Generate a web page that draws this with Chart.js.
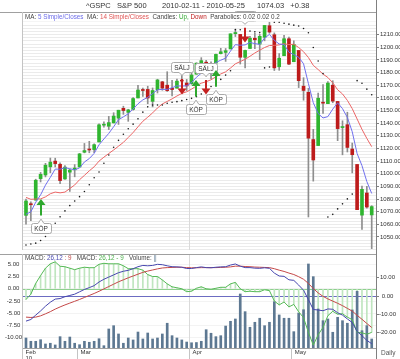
<!DOCTYPE html>
<html>
<head>
<meta charset="utf-8">
<script src="https://cdn.jsdelivr.net/npm/chart.js@4.4.1/dist/chart.umd.min.js"></script>
<style>
  html, body { margin: 0; padding: 0; background: #fff; }
  #wrap { position: relative; width: 400px; height: 359px; overflow: hidden; }
  #price { position: absolute; left: 0; top: 0; }
  #macd { position: absolute; left: 0; top: 254px; }
</style>
</head>
<body>
<div id="wrap">
  <canvas id="price" width="400" height="254"></canvas>
  <canvas id="macd" width="400" height="105"></canvas>
</div>
<script>
// ---- S&P 500 daily ----
const dates = [
  '2010-02-11','2010-02-12','2010-02-16','2010-02-17','2010-02-18','2010-02-19','2010-02-22','2010-02-23','2010-02-24','2010-02-25','2010-02-26',
  '2010-03-01','2010-03-02','2010-03-03','2010-03-04','2010-03-05','2010-03-08','2010-03-09','2010-03-10','2010-03-11','2010-03-12','2010-03-15',
  '2010-03-16','2010-03-17','2010-03-18','2010-03-19','2010-03-22','2010-03-23','2010-03-24','2010-03-25','2010-03-26','2010-03-29','2010-03-30','2010-03-31',
  '2010-04-01','2010-04-05','2010-04-06','2010-04-07','2010-04-08','2010-04-09','2010-04-12','2010-04-13','2010-04-14','2010-04-15','2010-04-16',
  '2010-04-19','2010-04-20','2010-04-21','2010-04-22','2010-04-23','2010-04-26','2010-04-27','2010-04-28','2010-04-29','2010-04-30',
  '2010-05-03','2010-05-04','2010-05-05','2010-05-06','2010-05-07','2010-05-10','2010-05-11','2010-05-12','2010-05-13','2010-05-14',
  '2010-05-17','2010-05-18','2010-05-19','2010-05-20','2010-05-21','2010-05-24','2010-05-25'
];
const opens = [
  1067.10, 1075.95, 1079.13, 1096.14, 1099.03, 1105.49, 1110.00, 1107.49, 1095.89, 1101.24,
  1103.10, 1105.36, 1117.01, 1119.36, 1119.12, 1125.12, 1138.40, 1137.56, 1140.22, 1143.96,
  1151.71, 1148.53, 1150.83, 1159.94, 1166.13, 1166.68, 1157.25, 1166.47, 1172.70, 1170.03,
  1167.58, 1167.71, 1173.75, 1171.75, 1171.23, 1178.71, 1186.01, 1188.23, 1181.75, 1187.47,
  1194.94, 1195.94, 1198.69, 1210.77, 1210.17, 1192.06, 1199.04, 1207.16, 1202.52, 1207.87,
  1217.07, 1209.92, 1184.59, 1193.30, 1206.77, 1188.58, 1197.50, 1169.24, 1164.38, 1127.04,
  1122.27, 1156.39, 1155.43, 1170.04, 1157.19, 1136.52, 1138.78, 1119.57, 1107.34, 1067.26,
  1084.78, 1067.42
];
const highs = [
  1080.04, 1077.81, 1095.67, 1101.03, 1108.24, 1112.42, 1112.29, 1108.58, 1106.42, 1103.50,
  1107.24, 1116.11, 1123.96, 1125.64, 1123.73, 1139.38, 1141.05, 1145.37, 1148.26, 1150.24,
  1153.41, 1150.98, 1160.28, 1169.84, 1167.77, 1169.20, 1167.82, 1174.72, 1173.04, 1180.69,
  1173.93, 1174.85, 1177.83, 1174.56, 1181.43, 1187.73, 1191.80, 1189.60, 1188.55, 1194.66,
  1199.20, 1199.04, 1210.65, 1213.92, 1210.17, 1197.87, 1208.58, 1210.99, 1210.27, 1217.28,
  1219.80, 1211.38, 1195.05, 1209.36, 1207.99, 1205.13, 1197.50, 1175.95, 1167.58, 1135.13,
  1163.85, 1170.48, 1172.87, 1173.57, 1157.19, 1141.88, 1148.66, 1124.27, 1107.34, 1090.16,
  1089.95, 1074.75
];
const lows = [
  1060.06, 1062.97, 1079.13, 1093.50, 1097.48, 1100.80, 1105.38, 1092.18, 1095.50, 1086.02,
  1097.56, 1105.36, 1116.51, 1116.58, 1116.66, 1125.12, 1136.77, 1134.90, 1140.09, 1138.99,
  1146.97, 1141.45, 1150.35, 1159.94, 1161.16, 1155.33, 1152.88, 1163.83, 1166.01, 1165.09,
  1161.48, 1167.71, 1168.92, 1165.77, 1170.69, 1178.71, 1182.77, 1177.25, 1175.12, 1187.15,
  1194.71, 1188.82, 1198.69, 1208.50, 1186.77, 1183.68, 1199.04, 1198.85, 1190.19, 1205.10,
  1211.07, 1181.62, 1181.81, 1193.30, 1186.32, 1188.58, 1168.12, 1158.15, 1065.79, 1094.15,
  1122.27, 1147.71, 1155.43, 1156.14, 1126.14, 1114.96, 1117.20, 1100.66, 1071.58, 1055.90,
  1072.70, 1040.78
];
const closes = [
  1078.47, 1075.51, 1094.87, 1099.51, 1106.75, 1109.17, 1108.01, 1094.60, 1105.24, 1102.94,
  1104.49, 1115.71, 1118.31, 1118.79, 1122.97, 1138.70, 1138.50, 1140.45, 1145.61, 1150.24,
  1149.99, 1150.51, 1159.46, 1166.21, 1165.83, 1159.90, 1165.81, 1174.17, 1167.72, 1165.73,
  1166.59, 1173.22, 1173.27, 1169.43, 1178.10, 1187.44, 1189.44, 1182.45, 1186.44, 1194.37,
  1196.48, 1197.30, 1210.65, 1211.67, 1192.13, 1197.52, 1207.17, 1205.94, 1208.67, 1217.28,
  1212.05, 1183.71, 1191.36, 1206.78, 1186.69, 1202.26, 1173.60, 1165.87, 1128.15, 1110.88,
  1159.73, 1155.79, 1171.67, 1157.44, 1135.68, 1136.94, 1120.80, 1115.05, 1071.59, 1087.69,
  1073.65, 1074.03
];
const ma5 = [
  1068.0, 1069.9, 1077.5, 1083.3, 1091.0, 1097.2, 1103.7, 1103.6, 1104.8, 1104.0,
  1103.1, 1104.6, 1109.3, 1112.0, 1116.1, 1122.9, 1127.5, 1131.9, 1137.2, 1142.7,
  1145.0, 1147.4, 1151.2, 1155.3, 1158.4, 1160.4, 1163.4, 1166.4, 1166.7, 1166.7,
  1168.0, 1169.5, 1169.3, 1169.6, 1172.1, 1176.3, 1179.5, 1181.4, 1184.8, 1188.0,
  1189.8, 1191.4, 1197.0, 1202.1, 1201.6, 1201.9, 1203.8, 1202.9, 1202.3, 1207.3,
  1210.2, 1205.5, 1202.6, 1202.2, 1196.1, 1194.2, 1192.1, 1187.0, 1171.3, 1156.2,
  1147.6, 1144.1, 1145.2, 1151.1, 1156.1, 1151.5, 1144.5, 1133.2, 1116.0, 1106.4,
  1093.8, 1084.4
];
const ma14 = [
  1081.3, 1079.8, 1080.0, 1080.1, 1081.7, 1084.2, 1085.5, 1084.9, 1085.5, 1088.3,
  1091.1, 1095.3, 1098.7, 1102.3, 1105.5, 1110.0, 1113.1, 1116.0, 1118.8, 1121.8,
  1124.8, 1128.7, 1132.6, 1137.1, 1141.5, 1144.7, 1148.1, 1152.0, 1155.2, 1157.2,
  1159.2, 1161.5, 1163.5, 1164.8, 1166.9, 1169.5, 1171.6, 1172.8, 1174.3, 1176.7,
  1178.9, 1180.6, 1183.6, 1186.9, 1188.7, 1190.5, 1192.9, 1195.5, 1197.7, 1199.8,
  1201.4, 1201.5, 1201.9, 1202.8, 1202.1, 1202.4, 1199.8, 1196.5, 1191.9, 1185.7,
  1182.4, 1178.8, 1176.1, 1171.9, 1166.4, 1163.1, 1158.0, 1151.5, 1143.3, 1135.1,
  1127.9, 1121.4
];
const sar = [
  1043.7, 1044.4, 1045.1, 1047.2, 1050.4, 1055.0, 1060.8, 1065.9, 1070.6, 1074.8,
  1078.5, 1081.9, 1086.0, 1091.3, 1096.8, 1101.4, 1108.3, 1114.8, 1120.9, 1126.4,
  1131.2, 1135.6, 1139.2, 1143.4, 1148.7, 1152.9, 1154.4, 1154.4, 1154.4, 1155.7,
  1156.5, 1157.0, 1157.8, 1158.7, 1159.6, 1161.0, 1163.0, 1166.0, 1169.0, 1171.5,
  1174.6, 1178.0, 1181.4, 1214.0, 1213.9, 1213.4, 1212.8, 1212.2, 1211.6, 1183.7,
  1184.4, 1219.8, 1219.8, 1219.0, 1218.3, 1217.5, 1216.8, 1214.9, 1211.5, 1199.8,
  1189.1, 1179.2, 1065.8, 1067.9, 1072.2, 1076.2, 1080.1, 1083.9, 1173.6, 1171.5,
  1166.9, 1162.5
];
const macdLine = [
  -13.8, -12.9, -10.5, -8.2, -5.6, -3.4, -1.7, -1.4, -0.4, 0.3,
  1.0, 2.3, 3.6, 4.6, 5.7, 7.7, 9.2, 10.4, 11.6, 12.8,
  13.6, 14.1, 15.0, 16.1, 16.8, 16.6, 16.8, 17.4, 17.2, 16.6,
  16.1, 16.0, 15.8, 15.1, 15.1, 15.6, 16.0, 15.6, 15.5, 15.8,
  16.0, 16.1, 17.0, 17.6, 16.4, 15.6, 15.6, 15.3, 15.2, 15.5,
  15.2, 12.6, 11.0, 10.8, 8.9, 8.6, 6.0, 3.2, -2.0, -7.4,
  -7.7, -8.1, -7.1, -7.3, -9.2, -10.5, -12.6, -14.6, -19.5, -21.8,
  -24.4, -26.2
];
const signalLine = [
  -11.6, -11.8, -11.6, -10.9, -9.8, -8.6, -7.2, -6.0, -4.9, -3.9,
  -2.9, -1.9, -0.8, 0.3, 1.4, 2.6, 3.9, 5.2, 6.5, 7.8,
  8.9, 10.0, 11.0, 12.0, 13.0, 13.7, 14.3, 14.9, 15.4, 15.6,
  15.7, 15.8, 15.8, 15.6, 15.5, 15.5, 15.6, 15.6, 15.6, 15.6,
  15.7, 15.8, 16.0, 16.4, 16.4, 16.2, 16.1, 15.9, 15.8, 15.7,
  15.6, 15.0, 14.2, 13.5, 12.6, 11.8, 10.6, 9.2, 6.9, 4.1,
  1.7, -0.2, -1.6, -2.8, -4.0, -5.3, -6.8, -8.3, -10.6, -12.8,
  -15.1, -17.3
];
const histogram = [
  -2.2, -1.1, 1.1, 2.7, 4.2, 5.1, 5.5, 4.6, 4.5, 4.2,
  3.9, 4.2, 4.4, 4.3, 4.3, 5.0, 5.2, 5.1, 5.1, 5.1,
  4.7, 4.1, 4.1, 4.1, 3.8, 2.9, 2.5, 2.5, 1.8, 1.0,
  0.4, 0.2, 0.0, -0.6, -0.5, 0.1, 0.4, 0.0, -0.1, 0.1,
  0.3, 0.3, 1.0, 1.3, 0.0, -0.6, -0.5, -0.6, -0.6, -0.2,
  -0.4, -2.5, -3.3, -2.7, -3.7, -3.2, -4.7, -5.9, -8.9, -11.5,
  -9.4, -7.9, -5.5, -4.6, -5.2, -5.1, -5.8, -6.3, -8.9, -9.0,
  -9.3, -8.9
];
// volume, millions of shares
const volume = [
  4420, 4150, 4150, 4280, 3930, 3990, 3850, 4530, 4150, 4500,
  3990, 3870, 4150, 4070, 4150, 4360, 3790, 5160, 5430, 4750,
  3990, 4420, 4260, 4910, 4340, 4830, 4340, 4420, 4750, 5630,
  4610, 4420, 4260, 4090, 4030, 4050, 4150, 5100, 4810, 4530,
  4610, 5400, 5790, 5980, 8030, 6580, 5300, 5710, 6040, 5430,
  5710, 7400, 6310, 6040, 6040, 4940, 6470, 6740, 10490, 9450,
  6800, 5840, 5980, 4890, 6120, 5840, 5630, 6720, 8250, 5020,
  5430, 4340
];

// buy / sell markers
const signalIdx = [3, 32, 35, 37, 39, 45];
const signalText = ['KÖP', 'SÄLJ', 'KÖP', 'SÄLJ', 'KÖP', 'SÄLJ'];
const signalTip = [1080.1, 1162.6, 1174.2, 1162.6, 1182.0, 1203.8];
const signalTail = [1066.9, 1175.0, 1161.0, 1174.2, 1168.8, 1215.4];

// axis labels
const priceLabels = [1050, 1060, 1070, 1080, 1090, 1100, 1110, 1120, 1130, 1140, 1150, 1160, 1170, 1180, 1190, 1200, 1210];
const histLabels = [-10, -7.5, -5, -2.5, 0, 2.5, 5];
const macdLabels = [-20, -10, 0, 10];
const monthLabels = ['Feb', 'Mar', 'Apr', 'May'];
const yearLabel = '10';

// ---- helpers ----
const FONT = '"Liberation Sans", Arial, Helvetica, sans-serif';
Chart.defaults.font.family = FONT;
Chart.defaults.font.size = 6;
Chart.defaults.color = '#333';
Chart.defaults.animation = false;
Chart.defaults.plugins.legend.display = false;
Chart.defaults.plugins.tooltip.enabled = false;

const X_MIN = -0.82;
const X_MAX = dates.length - 1 + 0.88;
const pts = arr => arr.map((v, i) => ({ x: i, y: v }));
const monthStarts = dates.map((d, i) => i).filter(i => i === 0 || dates[i].slice(5, 7) !== dates[i - 1].slice(5, 7));
const monthTickAt = i => (i === 0 ? X_MIN : i - 0.5);
const quarterAt = monthTickAt(monthStarts[2]);

const priceGrid = [];
for (let v = 1040; v <= 1227.5; v += 2.5) priceGrid.push(v);

const fixSize = (w, h) => scale => {
  if (w != null) scale.width = w;
  if (h != null) scale.height = h;
  scale.paddingTop = scale.paddingBottom = scale.paddingLeft = scale.paddingRight = 0;
};
const crisp = v => Math.round(v) + 0.5;
function seg(ctx, x0, y0, x1, y1, color) {
  ctx.strokeStyle = color;
  ctx.lineWidth = 1;
  ctx.beginPath();
  ctx.moveTo(x0, y0);
  ctx.lineTo(x1, y1);
  ctx.stroke();
}
function drawPieces(ctx, x, y, pieces) {
  ctx.textAlign = 'left';
  ctx.textBaseline = 'middle';
  pieces.forEach(([text, color]) => {
    ctx.fillStyle = color;
    ctx.fillText(text, x, y);
    x += ctx.measureText(text).width;
  });
}

function drawCallout(ctx, cx, tipY, text, below) {
  const w = Math.round(ctx.measureText(text).width) + 6, h = 10, nh = 3.5, nw = 3, r = 2;
  const L = Math.round(cx - w / 2) + 0.5, R = L + w;
  const T = below ? Math.round(tipY + nh) + 0.5 : Math.round(tipY - nh) + 0.5 - h;
  const B = T + h;
  ctx.beginPath();
  ctx.moveTo(L + r, T);
  if (below) { ctx.lineTo(cx - nw, T); ctx.lineTo(cx, tipY); ctx.lineTo(cx + nw, T); }
  ctx.lineTo(R - r, T); ctx.arcTo(R, T, R, T + r, r);
  ctx.lineTo(R, B - r); ctx.arcTo(R, B, R - r, B, r);
  if (!below) { ctx.lineTo(cx + nw, B); ctx.lineTo(cx, tipY); ctx.lineTo(cx - nw, B); }
  ctx.lineTo(L + r, B); ctx.arcTo(L, B, L, B - r, r);
  ctx.lineTo(L, T + r); ctx.arcTo(L, T, L + r, T, r);
  ctx.closePath();
  ctx.fillStyle = '#fff';
  ctx.fill();
  ctx.strokeStyle = '#a9a9a9';
  ctx.lineWidth = 1;
  ctx.stroke();
  ctx.fillStyle = '#333';
  ctx.textAlign = 'center';
  ctx.textBaseline = 'middle';
  ctx.fillText(text, cx, (T + B) / 2 + 0.5);
}

function drawSignals(chart) {
  const { ctx, scales: { x, y } } = chart;
  ctx.font = '6.5px ' + FONT;
  signalIdx.forEach((i, k) => {
    const buy = signalText[k] === 'KÖP';
    const col = buy ? '#2ea82e' : '#c42020';
    const dir = buy ? -1 : 1;
    const px = Math.round(x.getPixelForValue(i));
    const yTip = y.getPixelForValue(signalTip[k]);
    const yTail = y.getPixelForValue(signalTail[k]);
    ctx.strokeStyle = col;
    ctx.lineWidth = 2;
    ctx.beginPath();
    ctx.moveTo(px, yTail);
    ctx.lineTo(px, yTip - dir * 5);
    ctx.stroke();
    ctx.fillStyle = col;
    ctx.beginPath();
    ctx.moveTo(px, yTip);
    ctx.lineTo(px - 4.5, yTip - dir * 6);
    ctx.lineTo(px + 4.5, yTip - dir * 6);
    ctx.closePath();
    ctx.fill();
    drawCallout(ctx, px, yTail - dir * 3.5, signalText[k], buy);
  });
}

// ---- price panel ----
const upColor = '#2fb52f';
const downColor = '#bd1b1b';
const bodyColors = opens.map((o, i) => (closes[i] >= o ? upColor : downColor));
const bodies = opens.map((o, i) => ({ x: i, y: [o, closes[i]] }));
const wicks = lows.map((l, i) => ({ x: i, y: [l, highs[i]] }));

const priceDecor = {
  id: 'priceDecor',
  beforeDatasetsDraw(chart) {
    const { ctx, chartArea: a, scales: { x } } = chart;
    ctx.save();
    const qx = crisp(x.getPixelForValue(quarterAt));
    seg(ctx, qx, a.top, qx, a.bottom, '#dadada');
    ctx.restore();
  },
  afterDatasetsDraw(chart) {
    const { ctx, chartArea: a } = chart;
    ctx.save();
    drawSignals(chart);

    // legend strip
    ctx.fillStyle = '#fff';
    ctx.fillRect(a.left + 1, a.top + 1, a.right - a.left - 1, 8.5);
    ctx.font = '6.3px ' + FONT;
    drawPieces(ctx, 25, a.top + 4.8, [
      ['MA: ', '#444'], ['5 Simple/Closes', '#6c6ce8'], ['  MA: ', '#444'], ['14 Simple/Closes', '#e05555'],
      ['  Candles: ', '#444'], ['Up,', '#2fa82f'], [' Down', '#c02020'], ['  Parabolics: ', '#444'], ['0.02 0.02 0.2', '#444']
    ]);

    // title
    const last = closes[closes.length - 1];
    const chg = last - closes[closes.length - 2];
    ctx.font = '7.5px ' + FONT;
    ctx.fillStyle = '#333';
    ctx.textAlign = 'left';
    ctx.textBaseline = 'middle';
    ctx.fillText('^GSPC   S&P 500', 86, 6);
    ctx.fillText(dates[0] + ' - ' + dates[dates.length - 1], 162, 6);
    ctx.fillText(last.toFixed(2) + '   ' + (chg >= 0 ? '+' : '') + chg.toFixed(2), 257, 6);

    // frame
    seg(ctx, 0, crisp(a.top), a.right, crisp(a.top), '#a0a0a0');
    seg(ctx, crisp(a.left), a.top, crisp(a.left), a.bottom, '#c4c4c4');
    seg(ctx, crisp(a.right), 0, crisp(a.right), chart.height, '#808080');
    ctx.restore();
  }
};

new Chart(document.getElementById('price'), {
  type: 'bar',
  data: {
    datasets: [
      { type: 'line', label: 'Parabolic SAR', data: pts(sar), showLine: false, pointRadius: 0.8,
        pointBackgroundColor: '#1a1a1a', pointBorderWidth: 0, order: 0 },
      { type: 'line', label: 'MA 5', data: pts(ma5), borderColor: '#7070ee', borderWidth: 1, pointRadius: 0, order: 1 },
      { type: 'line', label: 'MA 14', data: pts(ma14), borderColor: '#ec6565', borderWidth: 1, pointRadius: 0, order: 2 },
      { label: 'Body', data: bodies, backgroundColor: bodyColors, barThickness: 3, minBarLength: 1, grouped: false, order: 3 },
      { label: 'Wick', data: wicks, backgroundColor: '#8e8e8e', barThickness: 1, grouped: false, order: 4 }
    ]
  },
  options: {
    responsive: false,
    layout: { padding: { left: 22, top: 12, right: 0, bottom: 0 } },
    scales: {
      x: { type: 'linear', min: X_MIN, max: X_MAX, bounds: 'data', offset: false, display: false },
      y: {
        position: 'right', min: 1039.7, max: 1227.9, bounds: 'data',
        afterBuildTicks: s => { s.ticks = priceGrid.map(v => ({ value: v })); },
        afterFit: fixSize(24, null),
        ticks: {
          autoSkip: false, padding: 1, color: '#333', font: { size: 6 },
          callback: v => (priceLabels.includes(v) ? v.toFixed(2) : '')
        },
        grid: {
          color: '#ebebeb', tickLength: 3,
          tickColor: c => (c.tick && priceLabels.includes(c.tick.value) ? '#808080' : 'rgba(0,0,0,0)')
        },
        border: { display: false }
      }
    }
  },
  plugins: [priceDecor]
});

// ---- MACD / volume panel ----
const macdDecor = {
  id: 'macdDecor',
  beforeDatasetsDraw(chart) {
    const { ctx, chartArea: a, scales: { x, yH, yM } } = chart;
    ctx.save();
    const qx = crisp(x.getPixelForValue(quarterAt));
    seg(ctx, qx, a.top, qx, a.bottom, '#dadada');
    const zh = crisp(yH.getPixelForValue(0));
    seg(ctx, a.left, zh, a.right, zh, '#8ed08e');
    const zm = crisp(yM.getPixelForValue(0));
    seg(ctx, a.left, zm, a.right, zm, '#6c6cc2');
    ctx.restore();
  },
  afterDatasetsDraw(chart) {
    const { ctx, chartArea: a, scales: { x } } = chart;
    ctx.save();
    seg(ctx, 0, 0.5, a.right, 0.5, '#a0a0a0');
    seg(ctx, crisp(a.left), 0, crisp(a.left), chart.height, '#c4c4c4');
    seg(ctx, a.left, crisp(a.bottom), a.right, crisp(a.bottom), '#a0a0a0');
    seg(ctx, crisp(a.right), 0, crisp(a.right), chart.height, '#808080');
    monthStarts.forEach(i => {
      const mx = crisp(x.getPixelForValue(monthTickAt(i)));
      seg(ctx, mx, a.bottom, mx, chart.height, '#c4c4c4');
    });

    ctx.font = '6.3px ' + FONT;
    drawPieces(ctx, 25, 3.8, [
      ['MACD: ', '#444'], ['26,12', '#4a4ab0'], [' : 9', '#c04848'],
      ['   MACD: ', '#444'], ['26,12 - 9', '#4cb04c'],
      ['   Volume: ', '#444'], ['||', '#5d7892']
    ]);
    ctx.font = '6.5px ' + FONT;
    ctx.fillStyle = '#555';
    ctx.fillText('Daily', 381, a.bottom + 5.5);
    ctx.restore();
  }
};

new Chart(document.getElementById('macd'), {
  type: 'bar',
  data: {
    datasets: [
      { type: 'line', label: 'MACD', data: pts(macdLine), yAxisID: 'yM', borderColor: '#4646ae', borderWidth: 1, pointRadius: 0, order: 0 },
      { type: 'line', label: 'Signal', data: pts(signalLine), yAxisID: 'yM', borderColor: '#c44848', borderWidth: 1, pointRadius: 0, order: 1 },
      { type: 'line', label: 'MACD - signal', data: pts(histogram), yAxisID: 'yH', borderColor: '#55b955', borderWidth: 1, pointRadius: 0, order: 2 },
      { label: 'Volume', data: pts(volume), yAxisID: 'yV', backgroundColor: '#5d7892', barThickness: 2, grouped: false, order: 3 },
      { label: 'Hist', data: pts(histogram), yAxisID: 'yH', backgroundColor: '#bfe5bf', barThickness: 1, grouped: false, order: 4 }
    ]
  },
  options: {
    responsive: false,
    layout: { padding: 0 },
    scales: {
      x: {
        type: 'linear', min: X_MIN, max: X_MAX, bounds: 'data', offset: false, position: 'bottom',
        afterBuildTicks: s => { s.ticks = monthStarts.map(i => ({ value: monthTickAt(i) })); },
        afterFit: fixSize(null, 11),
        ticks: {
          autoSkip: false, maxRotation: 0, minRotation: 0, align: 'start', labelOffset: 3.5, padding: 1,
          color: '#333', font: { size: 6, lineHeight: 1 },
          callback: (v, i) => (i === 0 ? [monthLabels[0], yearLabel] : monthLabels[i])
        },
        grid: { drawOnChartArea: false, drawTicks: false },
        border: { display: false }
      },
      yH: {
        position: 'left', min: -12.1, max: 7.1, bounds: 'data',
        afterBuildTicks: s => { s.ticks = histLabels.map(v => ({ value: v })); },
        afterFit: fixSize(22, null),
        ticks: { crossAlign: 'center', padding: 0, color: '#333', font: { size: 6 }, callback: v => v.toFixed(2) },
        grid: { color: '#f3f3f3', drawTicks: false },
        border: { display: false }
      },
      yM: {
        position: 'right', min: -28.57, max: 23.08, bounds: 'data',
        afterBuildTicks: s => { s.ticks = macdLabels.map(v => ({ value: v })); },
        afterFit: fixSize(24, null),
        ticks: { crossAlign: 'center', padding: 0, color: '#333', font: { size: 6 }, callback: v => v.toFixed(2) },
        grid: { drawOnChartArea: false, tickLength: 3, tickColor: '#808080' },
        border: { display: false }
      },
      yV: { display: false, min: 3600, max: 11308, bounds: 'data' }
    }
  },
  plugins: [macdDecor]
});
</script>
</body>
</html>
